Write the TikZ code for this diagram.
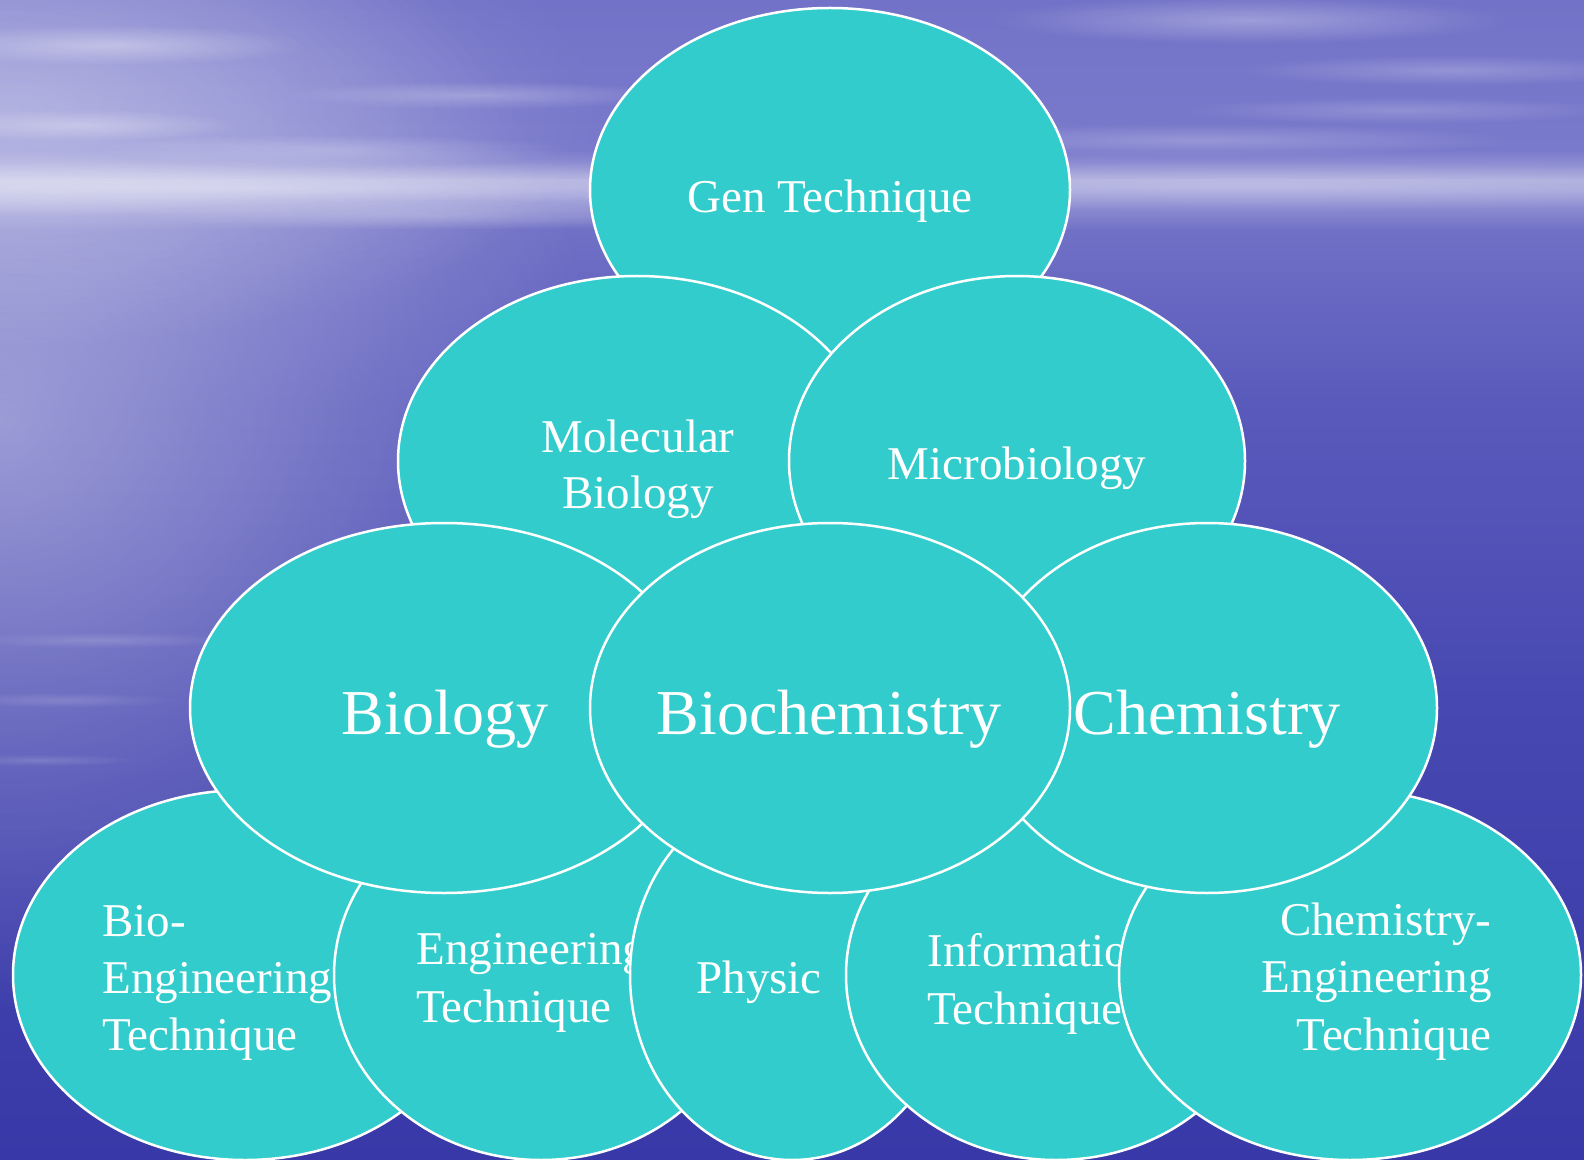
\documentclass[tikz,border=0pt]{standalone}
\usepackage{fontspec}
\setmainfont{Liberation Serif}
\usetikzlibrary{shapes.geometric,fadings}
\definecolor{bubc}{HTML}{33CCCC}
\definecolor{s0}{HTML}{7272C8}
\definecolor{s1}{HTML}{7A7ACC}
\definecolor{s2}{HTML}{A8A8DC}
\definecolor{s3}{HTML}{A0A0DA}
\definecolor{s4}{HTML}{7070C6}
\definecolor{s5}{HTML}{5A5ABC}
\definecolor{s6}{HTML}{4848B2}
\definecolor{s7}{HTML}{3838A8}
\tikzfading[name=soft, inner color=transparent!0, outer color=transparent!100]
\begin{document}
\begin{tikzpicture}[x=0.5pt,y=-0.5pt,
  bub/.style 2 args={ellipse, draw=white, fill=bubc, line width=1.25pt,
    minimum width=#1pt, minimum height=#2pt, inner sep=0pt, outer sep=0pt},
  lbl/.style={text=white, font=\fontsize{23.5}{28}\selectfont, inner sep=0pt},
  big/.style={text=white, font=\fontsize{32}{38}\selectfont, inner sep=0pt},
  cloud/.style={fill=white, path fading=soft}]
\useasboundingbox (0,0) rectangle (1584,1160);
% ---- background: sky and sea
\shade[top color=s0, bottom color=s1] (0,0) rectangle (1584,151);
\shade[top color=s1, bottom color=s2] (0,150) rectangle (1584,181);
\shade[top color=s2, bottom color=s3] (0,180) rectangle (1584,191);
\shade[top color=s3, bottom color=s4] (0,190) rectangle (1584,231);
\shade[top color=s4, bottom color=s5] (0,230) rectangle (1584,401);
\shade[top color=s5, bottom color=s6] (0,400) rectangle (1584,701);
\shade[top color=s6, bottom color=s7] (0,700) rectangle (1584,1160);
% left glow
\fill[cloud, fill opacity=0.40] (0,420) ellipse [x radius=300pt, y radius=300pt];
\fill[cloud, fill opacity=0.30] (0,110) ellipse [x radius=300pt, y radius=120pt];
% horizon band and clouds
\fill[cloud, fill opacity=0.35] (250,188) ellipse [x radius=420pt, y radius=14pt];
\fill[cloud, fill opacity=0.25] (1250,186) ellipse [x radius=360pt, y radius=12pt];
\fill[cloud, fill opacity=0.35] (110,45) ellipse [x radius=100pt, y radius=10pt];
\fill[cloud, fill opacity=0.30] (80,125) ellipse [x radius=80pt, y radius=8pt];
\fill[cloud, fill opacity=0.25] (330,150) ellipse [x radius=120pt, y radius=8pt];
\fill[cloud, fill opacity=0.25] (480,95) ellipse [x radius=100pt, y radius=7pt];
\fill[cloud, fill opacity=0.22] (430,215) ellipse [x radius=150pt, y radius=7pt];
\fill[cloud, fill opacity=0.30] (1250,20) ellipse [x radius=130pt, y radius=12pt];
\fill[cloud, fill opacity=0.22] (1450,70) ellipse [x radius=110pt, y radius=8pt];
\fill[cloud, fill opacity=0.22] (1200,140) ellipse [x radius=160pt, y radius=8pt];
\fill[cloud, fill opacity=0.18] (1400,110) ellipse [x radius=110pt, y radius=7pt];
\fill[cloud, fill opacity=0.15] (60,700) ellipse [x radius=60pt, y radius=4pt];
\fill[cloud, fill opacity=0.15] (40,760) ellipse [x radius=50pt, y radius=3pt];
\fill[cloud, fill opacity=0.15] (100,640) ellipse [x radius=70pt, y radius=4pt];
% ---- top ellipse
\node[bub={240}{182}] (gen) at (830,190) {};
\node[lbl, anchor=base] (gent) at (830,213) {Gen Technique};
% ---- second row
\node[bub={239}{185}] (mol) at (637,461) {};
\node[lbl, anchor=base] (molt1) at (638,452) {Molecular};
\node[lbl, anchor=base] (molt2) at (638,508) {Biology};
\node[bub={228}{185}] (mic) at (1017,461) {};
\node[lbl, anchor=base] (mict) at (1017,480) {Microbiology};
% ---- bottom row
\node[bub={232}{185}] (bioeng) at (245,975) {};
\node[lbl, anchor=base west] (bioengt1) at (102,936) {Bio-};
\node[lbl, anchor=base west] (bioengt2) at (102,993) {Engineering};
\node[lbl, anchor=base west] (bioengt3) at (102,1050) {Technique};
\node[bub={207}{185}] (eng) at (541,975) {};
\node[lbl, anchor=base west] (engt1) at (416,964) {Engineering};
\node[lbl, anchor=base west] (engt2) at (416,1022) {Technique};
\node[bub={162}{185}] (phy) at (792,975) {};
\node[lbl, anchor=base west] (phyt) at (696,993) {Physic};
\node[bub={210}{185}] (inf) at (1056,975) {};
\node[lbl, anchor=base west] (inft1) at (927,966) {Information};
\node[lbl, anchor=base west] (inft2) at (927,1024) {Technique};
\node[bub={231}{185}] (cheng) at (1350,975) {};
\node[lbl, anchor=base east] (chengt1) at (1492,935) {Chemistry-};
\node[lbl, anchor=base east] (chengt2) at (1492,992) {Engineering};
\node[lbl, anchor=base east] (chengt3) at (1492,1050) {Technique};
% ---- middle row
\node[bub={254}{185}] (bio) at (444,708) {};
\node[big, anchor=base] (biot) at (445,734) {Biology};
\node[bub={230}{185}] (chem) at (1207,708) {};
\node[big, anchor=base] (chemt) at (1207,734) {Chemistry};
\node[bub={240}{185}] (bchem) at (830,708) {};
\node[big, anchor=base] (bchemt) at (829,734) {Biochemistry};
\end{tikzpicture}
\end{document}
